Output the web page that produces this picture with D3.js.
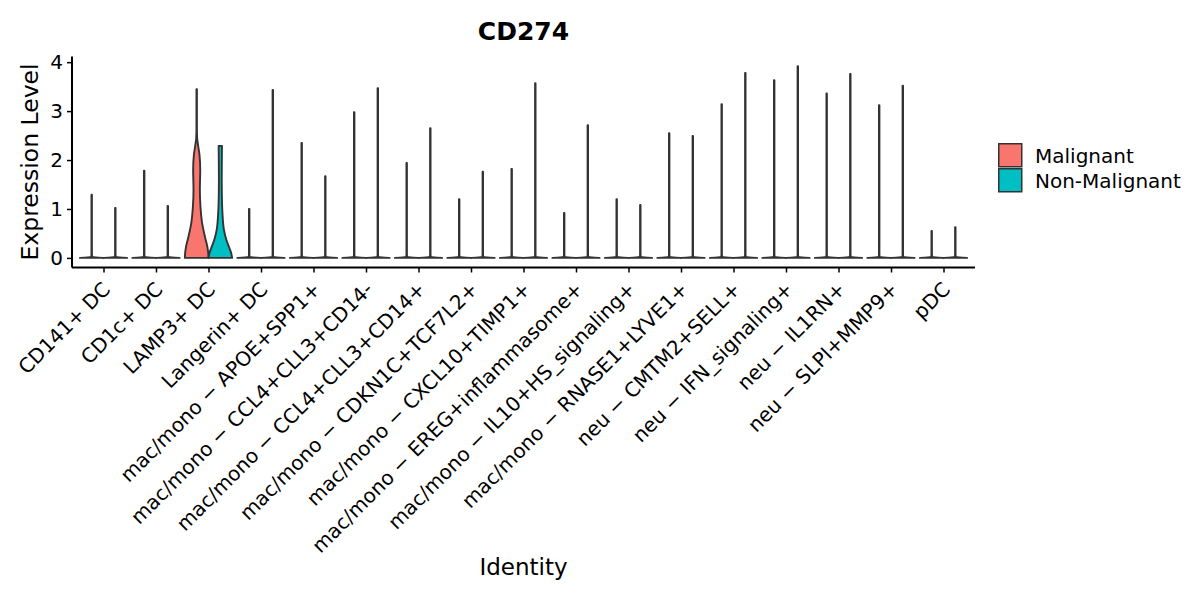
<!DOCTYPE html>
<html>
  <head>
    <meta charset="utf-8">
    <title>CD274</title>
    <script src="https://d3js.org/d3.v7.min.js"></script>
    <style>
      body { margin: 0; background: #fff; }
      text { font-family: "DejaVu Sans", sans-serif; fill: #000; }
    </style>
  </head>
  <body>
    <script>
      // categories and groups
      var categories = [
        "CD141+ DC", "CD1c+ DC", "LAMP3+ DC", "Langerin+ DC",
        "mac/mono − APOE+SPP1+", "mac/mono − CCL4+CLL3+CD14-", "mac/mono − CCL4+CLL3+CD14+",
        "mac/mono − CDKN1C+TCF7L2+", "mac/mono − CXCL10+TIMP1+", "mac/mono − EREG+inflammasome+",
        "mac/mono − IL10+HS_signaling+", "mac/mono − RNASE1+LYVE1+", "neu − CMTM2+SELL+",
        "neu − IFN_signaling+", "neu − IL1RN+", "neu − SLPI+MMP9+", "pDC"
      ];
      var groups = ["Malignant", "Non-Malignant"];
      var colors = ["#F8766D", "#00BFC4"];

      // max expression per category (violins are trimmed at max)
      var maxMalignant = [1.29, 1.78, 3.45, 1.00, 2.35, 2.98, 1.94, 1.20, 1.82, 0.92, 1.20, 2.55, 3.14, 3.63, 3.36, 3.12, 0.55];
      var maxNonMalignant = [1.02, 1.06, 2.29, 3.43, 1.67, 3.47, 2.65, 1.76, 3.57, 2.71, 1.08, 2.49, 3.78, 3.92, 3.76, 3.52, 0.63];

      // density profiles [value, relative width] for the only non-degenerate violins (LAMP3+ DC)
      var lamp3Malignant = [[0, 1], [0.12, 0.97], [0.23, 0.9], [0.43, 0.7], [0.71, 0.46], [1.05, 0.32],
        [1.39, 0.27], [1.8, 0.3], [2.1, 0.24], [2.3, 0.12], [2.45, 0.04], [2.65, 0.02], [3.45, 0.02]];
      var lamp3NonMalignant = [[0, 1], [0.1, 0.92], [0.2, 0.77], [0.37, 0.51], [0.57, 0.31], [0.92, 0.18],
        [1.3, 0.13], [1.59, 0.12], [2.0, 0.13], [2.29, 0.14]];

      var yTicks = [0, 1, 2, 3, 4];

      var W = 1200, H = 600;
      var margin = {top: 56.5, right: 225, bottom: 332.5, left: 72};
      var width = W - margin.left - margin.right;
      var height = H - margin.top - margin.bottom;

      var svg = d3.select("body").append("svg")
        .attr("width", W).attr("height", H);
      var g = svg.append("g")
        .attr("transform", "translate(" + margin.left + "," + margin.top + ")");

      var ymax = d3.max(maxMalignant.concat(maxNonMalignant));
      var pad = ymax * 0.05;
      var y = d3.scaleLinear().domain([-pad, ymax + pad]).range([height, 0]);
      var x = d3.scalePoint().domain(categories).range([0, width]).padding(0.6);
      var step = x.step();
      var halfW = step * 0.45 / 2;

      // build violin shapes
      function spike(m) { return [[0, 1], [0.02, 0.06], [0.06, 0.02], [m, 0.02]]; }
      var violins = [];
      categories.forEach(function(c, i) {
        var pm = c === "LAMP3+ DC" ? lamp3Malignant : spike(maxMalignant[i]);
        var pn = c === "LAMP3+ DC" ? lamp3NonMalignant : spike(maxNonMalignant[i]);
        violins.push({cat: c, group: 0, profile: pm});
        violins.push({cat: c, group: 1, profile: pn});
      });

      g.selectAll(".violin")
        .data(violins)
        .enter()
        .append("path")
        .attr("class", "violin")
        .attr("fill", function(d) { return colors[d.group]; })
        .attr("stroke", "#333")
        .attr("stroke-width", 1.9)
        .attr("stroke-linejoin", "round")
        .attr("d", function(d) {
          var cx = x(d.cat) + (d.group === 0 ? -halfW : halfW);
          return d3.area()
            .curve(d3.curveMonotoneY)
            .y(function(p) { return y(p[0]); })
            .x0(function(p) { return cx - p[1] * halfW; })
            .x1(function(p) { return cx + p[1] * halfW; })(d.profile);
        });

      // y axis
      var ya = g.append("g").call(d3.axisLeft(y).tickValues(yTicks).tickFormat(d3.format("d")).tickSize(5).tickPadding(4));
      ya.select(".domain").attr("stroke", "#000").attr("stroke-width", 2)
        .attr("d", "M0," + height + "V0");
      ya.selectAll(".tick line").attr("stroke", "#000").attr("stroke-width", 1.5);
      ya.selectAll(".tick text").style("font-size", "20px").attr("fill", "#000")
        .style("font-family", "DejaVu Sans");

      // x axis
      var xa = g.append("g").attr("transform", "translate(0," + height + ")")
        .call(d3.axisBottom(x).tickSize(5).tickFormat(""));
      xa.select(".domain").attr("stroke", "#000").attr("stroke-width", 2)
        .attr("d", "M0,0H" + width);
      xa.selectAll(".tick line").attr("stroke", "#000").attr("stroke-width", 1.5);

      g.selectAll(".xlab")
        .data(categories)
        .enter()
        .append("text")
        .attr("class", "xlab")
        .attr("text-anchor", "end")
        .attr("transform", function(d) {
          return "translate(" + (x(d) + 8) + "," + (height + 23) + ") rotate(-45)";
        })
        .style("font-size", "20px")
        .text(function(d) { return d; });

      // titles
      svg.append("text")
        .attr("x", margin.left + width / 2).attr("y", 40)
        .attr("text-anchor", "middle")
        .style("font-size", "25px").style("font-weight", "bold")
        .text("CD274");

      svg.append("text")
        .attr("x", margin.left + width / 2).attr("y", 575)
        .attr("text-anchor", "middle")
        .style("font-size", "23px")
        .text("Identity");

      svg.append("text")
        .attr("transform", "translate(38," + (margin.top + height / 2) + ") rotate(-90)")
        .attr("text-anchor", "middle")
        .style("font-size", "23.5px")
        .text("Expression Level");

      // legend
      var legend = svg.append("g").attr("transform", "translate(998,143)");
      groups.forEach(function(grp, i) {
        legend.append("rect")
          .attr("x", 0.75).attr("y", i * 25 + 0.75)
          .attr("width", 23).attr("height", 23)
          .attr("fill", colors[i]).attr("stroke", "#333").attr("stroke-width", 1.5);
        legend.append("text")
          .attr("x", 37).attr("y", i * 25 + 20)
          .style("font-size", "20px")
          .text(grp);
      });
    </script>
  </body>
</html>
